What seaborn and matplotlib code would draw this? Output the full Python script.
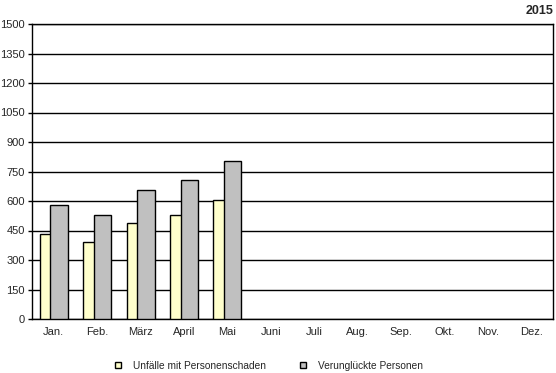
import pandas as pd
import matplotlib
matplotlib.use('Agg')
import matplotlib.pyplot as plt
from matplotlib.patches import Patch
import seaborn as sns

# Monatswerte 2015 (nur Jan. bis Mai vorhanden)
monate = ['Jan.', 'Feb.', 'März', 'April', 'Mai', 'Juni', 'Juli', 'Aug.', 'Sep.', 'Okt.', 'Nov.', 'Dez.']
unfaelle = [432, 390, 490, 530, 604]
verunglueckte = [582, 530, 656, 707, 801]
serien = ['Unfälle mit Personenschaden', 'Verunglückte Personen']
farben = ['#FFFFCC', '#C0C0C0']

df = pd.DataFrame({
    'Monat': monate[:5] * 2,
    'Wert': unfaelle + verunglueckte,
    'Serie': [serien[0]] * 5 + [serien[1]] * 5,
})

sns.set_style('white')
plt.rcParams['font.family'] = ['Liberation Sans', 'DejaVu Sans']

fig = plt.figure(figsize=(5.56, 3.73), dpi=100)
ax = fig.add_axes([32 / 556, 54 / 373, 521 / 556, 295 / 373])

sns.barplot(data=df, x='Monat', y='Wert', hue='Serie', order=monate, hue_order=serien,
            palette=farben, edgecolor='black', linewidth=1, width=0.8, saturation=1,
            legend=False, ax=ax)

# Balken überlappen lassen, grau vorne
for p in ax.patches:
    if p.get_facecolor()[0] > 0.9:  # gelb
        p.set_x(p.get_x() + 0.08)
        p.set_zorder(3)
    else:
        p.set_x(p.get_x() - 0.075)
        p.set_zorder(4)

ax.set_ylim(0, 1500)
ax.set_xlim(-0.5, 11.5)
ax.set_yticks(range(0, 1501, 150))
ax.yaxis.grid(True, color='black', linewidth=1, zorder=0)
ax.set_axisbelow(True)
ax.tick_params(axis='y', length=3, width=1, color='black', labelsize=8, pad=2, left=True)
ax.tick_params(axis='x', length=0, labelsize=8, pad=6)
ax.set_xlabel('')
ax.set_ylabel('')
for s in ax.spines.values():
    s.set_color('black')
    s.set_linewidth(1)

fig.text(553 / 556, 1 - 11 / 373, '2015', ha='right', va='center', fontsize=9, fontweight='bold')

handles = [Patch(facecolor=f, edgecolor='black', linewidth=1, label=s) for f, s in zip(farben, serien)]
fig.legend(handles=handles, loc='center', bbox_to_anchor=(269 / 556, 1 - 366 / 373), ncol=2,
           frameon=False, fontsize=7.3, handlelength=0.55, handleheight=0.55, handletextpad=1.2,
           columnspacing=3.4)

fig.savefig('out.png', dpi=100)
